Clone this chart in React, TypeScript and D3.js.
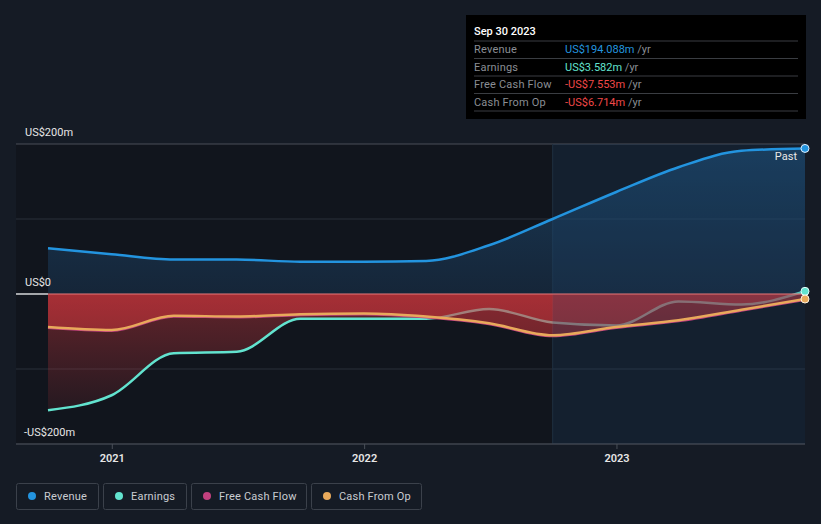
import React from "react";
import * as d3 from "d3";

const dates = [
  "2020-09-30", "2020-12-31", "2021-03-31", "2021-06-30", "2021-09-30", "2021-12-31",
  "2022-03-31", "2022-06-30", "2022-09-30", "2022-12-31", "2023-03-31", "2023-06-30", "2023-09-30",
];
const revenue = [61, 53, 46, 46, 43, 43, 44, 65, 100, 136, 169, 191, 194.088];
const earnings = [-155, -135, -79, -77, -33, -33, -33, -20, -38, -42, -10, -14, 3.582];
const freeCashFlow = [-45, -49, -30, -31, -28, -27, -31, -40, -56, -45, -36, -22, -7.553];
const cashFromOp = [-44, -48, -29, -30, -27, -26, -30, -39, -55, -44, -35, -21, -6.714];
const yTicks = [200, 0, -200];
const xTickYears = [2021, 2022, 2023];
const legendItems = [
  { name: "Revenue", color: "#2394df" },
  { name: "Earnings", color: "#62e3cf" },
  { name: "Free Cash Flow", color: "#c2417f" },
  { name: "Cash From Op", color: "#e8a95b" },
];
const tooltipRows = [
  { label: "Revenue", value: "US$194.088m", color: "#2394df" },
  { label: "Earnings", value: "US$3.582m", color: "#62e3cf" },
  { label: "Free Cash Flow", value: "-US$7.553m", color: "#f04848" },
  { label: "Cash From Op", value: "-US$6.714m", color: "#f04848" },
];

const W = 821, H = 524;
const FONT = "Roboto, 'Open Sans', sans-serif";

function measure(text: string, font: string): number {
  if (typeof document === "undefined") return text.length * 6;
  const c = document.createElement("canvas");
  const ctx = c.getContext("2d");
  if (!ctx) return text.length * 6;
  ctx.font = font;
  return ctx.measureText(text).width;
}

export default function App() {
  const parse = d3.timeParse("%Y-%m-%d");
  const dts = dates.map((d) => parse(d) as Date);
  const x = d3.scaleTime().domain([dts[0], dts[dts.length - 1]]).range([48, 805]);
  const y = d3.scaleLinear().domain([-200, 200]).range([444, 144]);
  const curve = d3.curveMonotoneX;

  const mk = (vals: number[]) => vals.map((v, i) => ({ d: dts[i], v }));
  const line = d3.line<{ d: Date; v: number }>().x((p) => x(p.d)).y((p) => y(p.v)).curve(curve);
  const area = d3.area<{ d: Date; v: number }>().x((p) => x(p.d)).y0(y(0)).y1((p) => y(p.v)).curve(curve);

  const pastStart = x(parse("2022-09-30") as Date);
  const gridVals = [200, 100, 0, -100, -200];

  let lx = 16;
  const legendLayout = legendItems.map((it) => {
    const tw = measure(it.name, "11px Roboto");
    const w = Math.round(tw + 40);
    const gx = lx;
    lx += w + 5;
    return { ...it, gx, w };
  });

  return (
    <svg width={W} height={H} style={{ position: "absolute", left: 0, top: 0, background: "#151b25" }}>
      <defs>
        <linearGradient id="revGrad" x1="0" y1="0" x2="0" y2="1">
          <stop offset="0" stopColor="#1f5a8a" stopOpacity={0.55} />
          <stop offset="1" stopColor="#1b3a5a" stopOpacity={0.45} />
        </linearGradient>
        <linearGradient id="negGrad" gradientUnits="userSpaceOnUse" x1="0" y1={y(0)} x2="0" y2={y(-160)}>
          <stop offset="0" stopColor="#d83a3f" stopOpacity={0.55} />
          <stop offset="1" stopColor="#d83a3f" stopOpacity={0.12} />
        </linearGradient>
        <clipPath id="below0">
          <rect x={0} y={y(0)} width={W} height={H} />
        </clipPath>
        <clipPath id="above0">
          <rect x={0} y={0} width={W} height={y(0)} />
        </clipPath>
      </defs>
      <rect x={0} y={0} width={W} height={H} fill="#151b25" />
      <rect x={16} y={144} width={789} height={300} fill="#11151d" />

      {gridVals.map((g) => (
        <line key={g} x1={16} x2={805} y1={y(g)} y2={y(g)} stroke={g === 200 ? "#4a4f58" : "#2b313b"} strokeWidth={1} />
      ))}

      <line x1={pastStart} x2={pastStart} y1={144} y2={444} stroke="#1f2e3c" strokeWidth={1} />
      <path d={area(mk(revenue)) || ""} fill="url(#revGrad)" clipPath="url(#above0)" />

      <g clipPath="url(#below0)">
        <path d={area(mk(earnings)) || ""} fill="url(#negGrad)" opacity={0.75} />
      </g>
      <path d={line(mk(earnings)) || ""} fill="none" stroke="#62e3cf" strokeWidth={2.5} />
      <g clipPath="url(#below0)">
        <path d={area(mk(freeCashFlow)) || ""} fill="url(#negGrad)" opacity={0.9} />
        <path d={area(mk(cashFromOp)) || ""} fill="#c43038" opacity={0.25} />
      </g>

      <rect x={pastStart} y={144} width={805 - pastStart} height={300} fill="#1e4a70" opacity={0.22} />

      <line x1={16} x2={48} y1={y(0)} y2={y(0)} stroke="#ffffff" strokeWidth={1.2} />
      <line x1={48} x2={805} y1={y(0)} y2={y(0)} stroke="#e57373" strokeWidth={1} />

      <path d={line(mk(freeCashFlow)) || ""} fill="none" stroke="#c2417f" strokeWidth={2.5} />
      <path d={line(mk(cashFromOp)) || ""} fill="none" stroke="#e8a95b" strokeWidth={2.5} />
      <path d={line(mk(revenue)) || ""} fill="none" stroke="#2394df" strokeWidth={2.5} />

      <circle cx={x(dts[12])} cy={y(revenue[12])} r={4} fill="#2394df" stroke="#dfefff" strokeWidth={1} />
      <circle cx={x(dts[12])} cy={y(earnings[12])} r={4} fill="#62e3cf" stroke="#e8fffb" strokeWidth={1} />
      <circle cx={x(dts[12])} cy={y(cashFromOp[12])} r={4} fill="#e8a95b" stroke="#fff3e0" strokeWidth={1} />

      <text x={797} y={160} fill="#e8e8e8" fontSize={11} fontFamily={FONT} textAnchor="end">Past</text>

      {yTicks.map((t) => (
        <text key={t} x={t < 0 ? 24 : 25} y={y(t) - 8} fill="#e6e6e6" fontSize={11} fontFamily={FONT}>
          {t === 0 ? "US$0" : t > 0 ? `US$${t}m` : `-US$${-t}m`}
        </text>
      ))}

      <line x1={16} x2={805} y1={444} y2={444} stroke="#4a4f58" strokeWidth={1} />
      {xTickYears.map((yr) => {
        const xx = x(new Date(yr, 0, 1));
        return (
          <g key={yr}>
            <line x1={xx} x2={xx} y1={444} y2={449} stroke="#4a4f58" />
            <text x={xx} y={462} fill="#e6e6e6" fontSize={11} fontWeight={600} fontFamily={FONT} textAnchor="middle">{yr}</text>
          </g>
        );
      })}

      {/* tooltip */}
      <rect x={466} y={15} width={340} height={104} fill="#000000" />
      <text x={474} y={35} fill="#ffffff" fontSize={11} fontWeight={500} fontFamily={FONT}>Sep 30 2023</text>
      {tooltipRows.map((r, i) => {
        const ty = 41 + i * 17.5;
        return (
          <g key={r.label}>
            <line x1={474} x2={798} y1={ty} y2={ty} stroke="#3a3d42" />
            <text x={474} y={ty + 12} fill="#8a8e94" fontSize={11} fontFamily={FONT} letterSpacing={0.2}>{r.label}</text>
            <text x={565} y={ty + 12} fontSize={11} fontFamily={FONT}>
              <tspan fill={r.color}>{r.value}</tspan>
              <tspan fill="#8a8e94"> /yr</tspan>
            </text>
          </g>
        );
      })}
      <line x1={474} x2={798} y1={111} y2={111} stroke="#3a3d42" />

      {/* legend */}
      {legendLayout.map((it) => (
        <g key={it.name}>
          <rect x={it.gx + 0.5} y={483.5} width={it.w} height={26} rx={2} fill="none" stroke="#3b414b" />
          <circle cx={it.gx + 16} cy={496} r={4} fill={it.color} />
          <text x={it.gx + 28} y={500} fill="#c9ccd1" fontSize={11} letterSpacing={0.2} fontFamily={FONT}>{it.name}</text>
        </g>
      ))}
    </svg>
  );
}
